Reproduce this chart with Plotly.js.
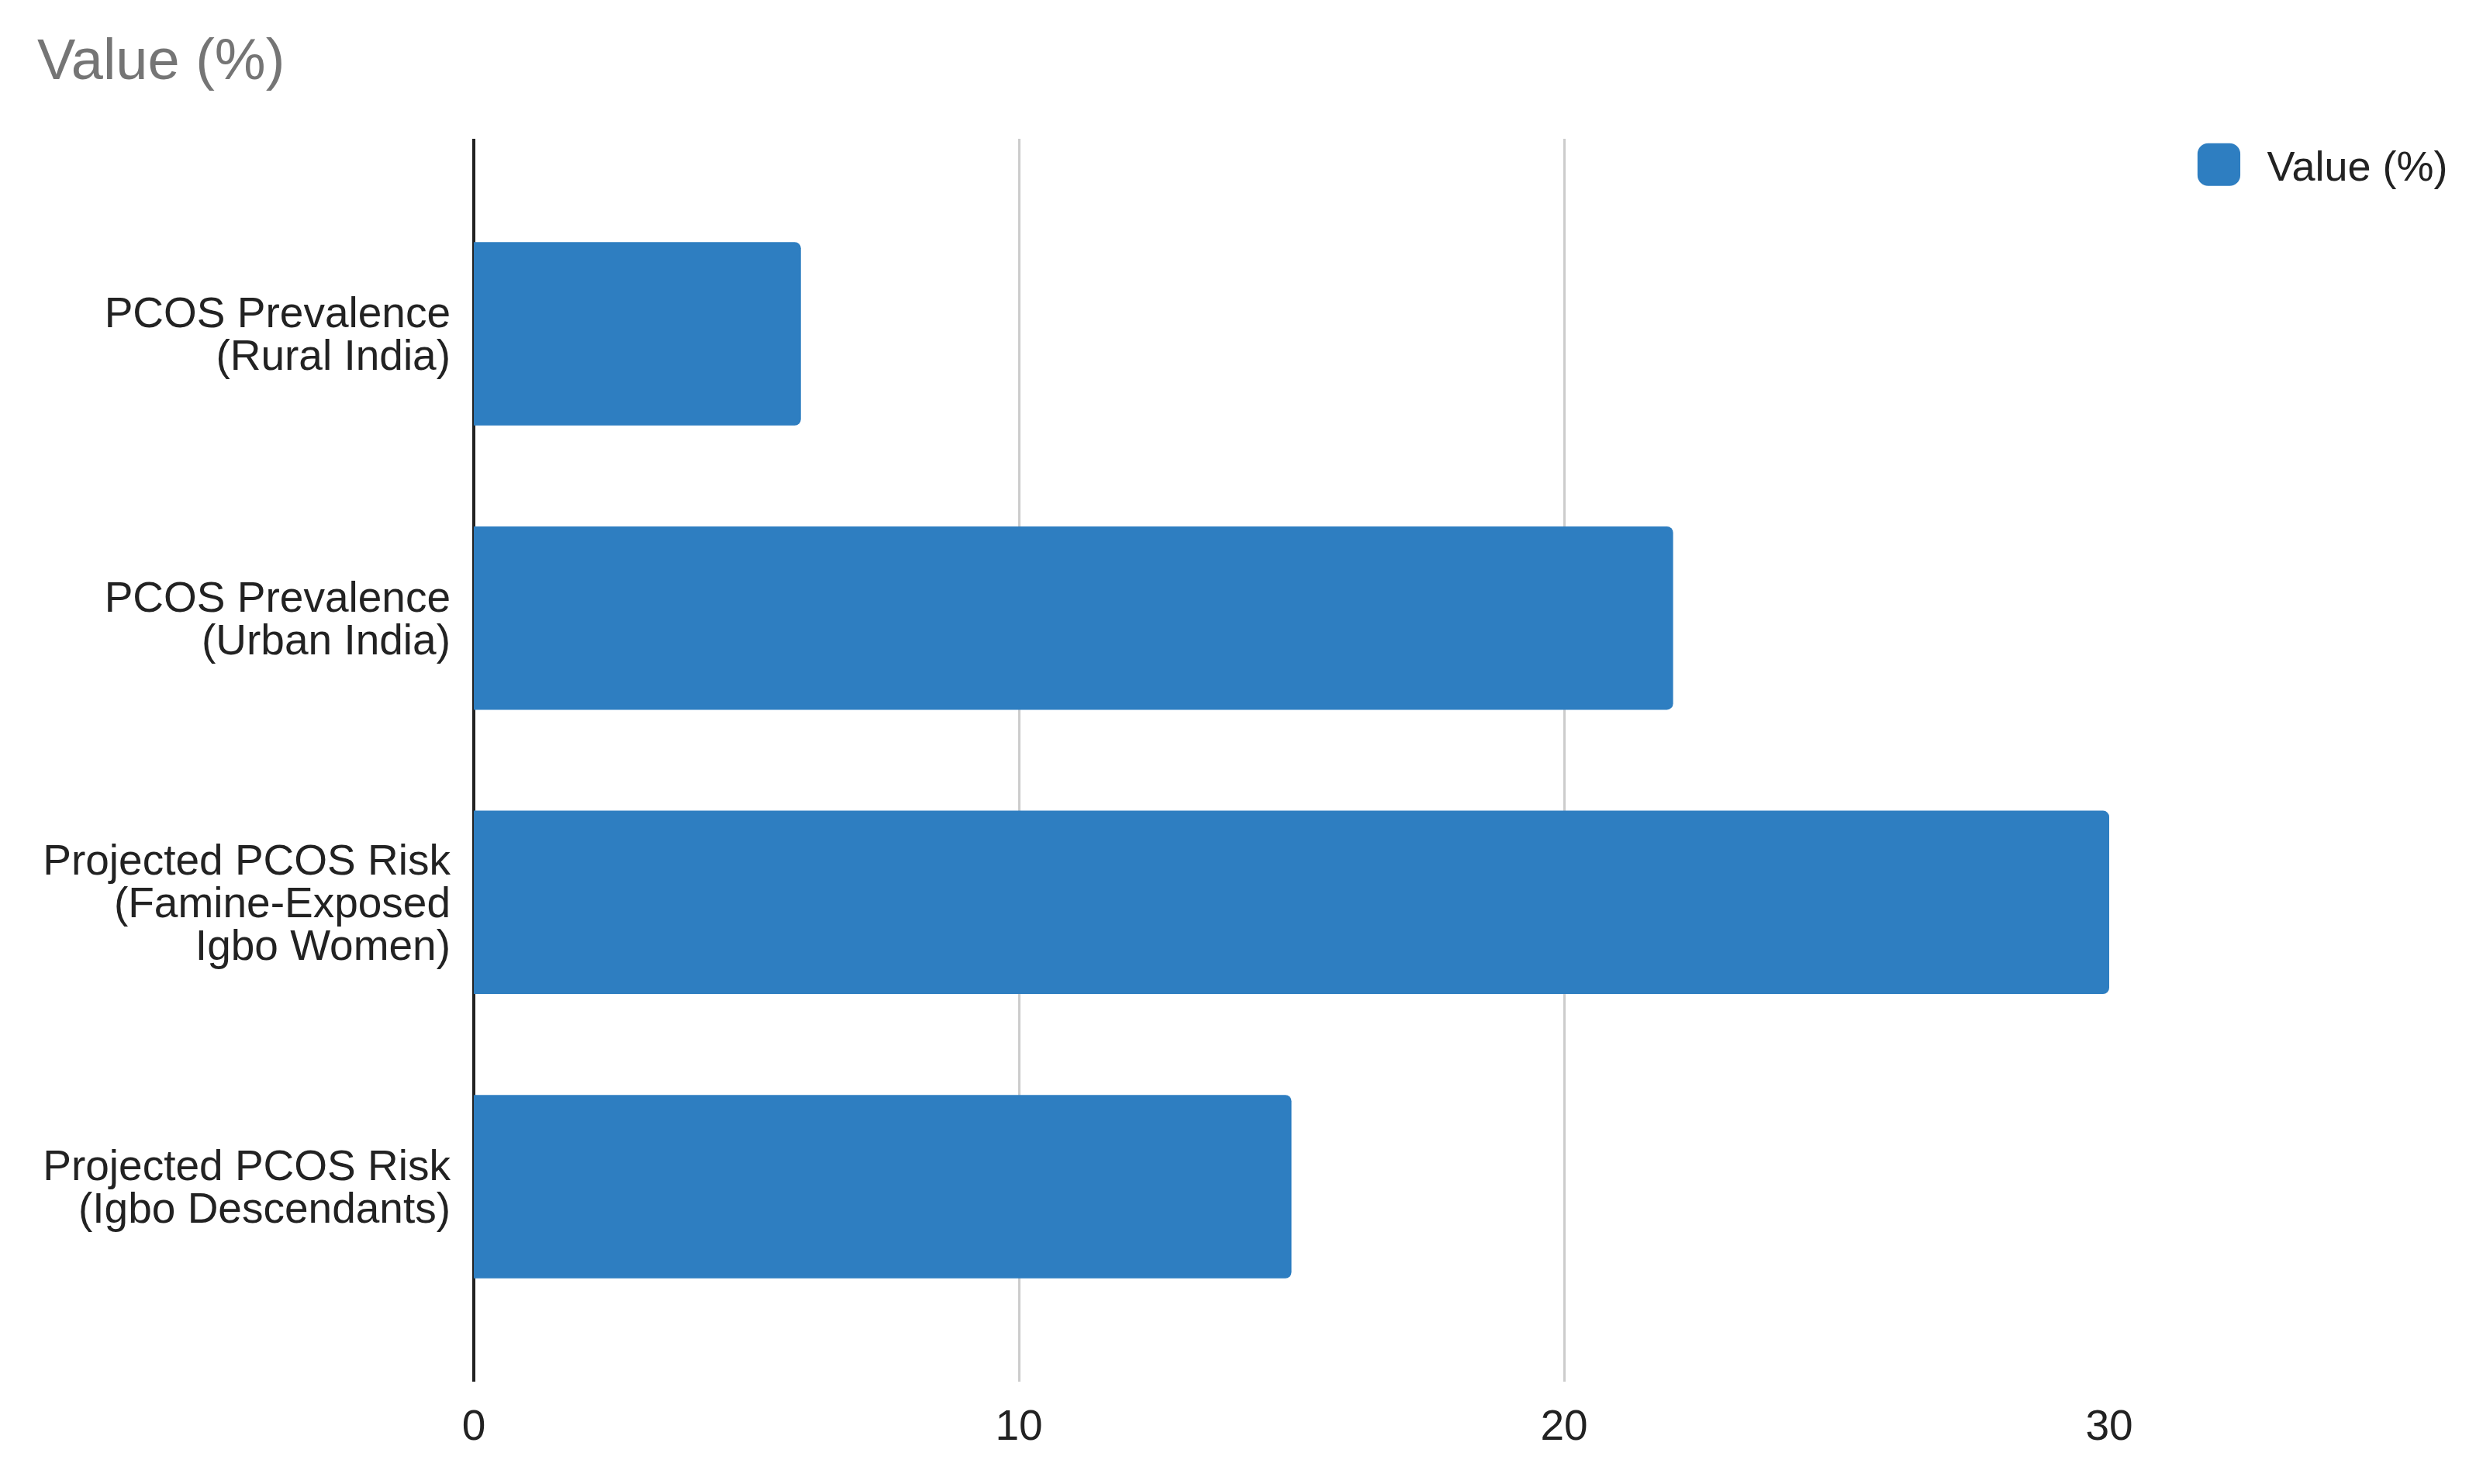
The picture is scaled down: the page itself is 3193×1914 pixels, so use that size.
<!DOCTYPE html>
<html>
<head>
<meta charset="utf-8">
<script src="https://cdn.plot.ly/plotly-3.0.1.min.js"></script>
<style>
  html, body { margin: 0; padding: 0; background: #fff; }
  #chart { width: 3193px; height: 1914px; }
</style>
</head>
<body>
<div id="chart"></div>
<script>
const categories = [
    'PCOS Prevalence<br>(Rural India)',
    'PCOS Prevalence<br>(Urban India)',
    'Projected PCOS Risk<br>(Famine-Exposed<br>Igbo Women)',
    'Projected PCOS Risk<br>(Igbo Descendants)'
];
const values = [6, 22, 30, 15];
const seriesName = 'Value (%)';
const xTicks = [0, 10, 20, 30];

const fontFamily = '"Liberation Sans", Arial, sans-serif';
const barColor = '#2e7ec1';
const labelLineSpacing = 1.0; // em, tighter than plotly's 1.3

const trace = {
    type: 'bar',
    orientation: 'h',
    x: values,
    y: categories,
    name: seriesName,
    marker: {
        color: barColor,
        cornerradius: 8,
        line: { width: 0 }
    },
    hoverinfo: 'x+y'
};

const layout = {
    width: 3193,
    height: 1914,
    paper_bgcolor: '#ffffff',
    plot_bgcolor: '#ffffff',
    font: { family: fontFamily, size: 55, color: '#222222' },
    margin: { l: 611, r: 473, t: 179, b: 132, pad: 0 },
    bargap: 0.355,
    title: {
        text: 'Value (%)',
        font: { family: fontFamily, size: 74, color: '#757575' },
        xref: 'container',
        yref: 'container',
        x: 0.015,
        xanchor: 'left',
        y: 0.96,
        yanchor: 'middle'
    },
    xaxis: {
        range: [0, 30],
        tickvals: xTicks,
        ticktext: xTicks.map(String),
        showgrid: true,
        gridcolor: '#cccccc',
        gridwidth: 3,
        zeroline: true,
        zerolinecolor: '#222222',
        zerolinewidth: 4,
        showline: false,
        ticks: 'outside',
        ticklen: 8,
        tickcolor: 'rgba(0,0,0,0)',
        tickfont: { size: 55, color: '#222222' },
        fixedrange: true
    },
    yaxis: {
        type: 'category',
        range: [3.686, -0.686],
        showgrid: false,
        zeroline: false,
        showline: false,
        ticks: 'outside',
        ticklen: 18,
        tickcolor: 'rgba(0,0,0,0)',
        tickfont: { size: 55, color: '#222222' },
        fixedrange: true
    },
    showlegend: true,
    legend: {
        x: 1.05,
        xanchor: 'left',
        y: 0.979,
        yanchor: 'middle',
        font: { size: 54, color: '#222222' },
        itemwidth: 88,
        bgcolor: 'rgba(0,0,0,0)'
    }
};

const config = { displayModeBar: false, staticPlot: true };

// tighten multi-line category labels and enlarge the legend swatch
function touchUp(gd) {
    gd.querySelectorAll('.ytick text').forEach(function (t) {
        const lines = t.querySelectorAll('tspan.line');
        const n = lines.length;
        if (n < 2) return;
        const shift = (n - 1) * (1.3 - labelLineSpacing) / 2;
        lines.forEach(function (ln, i) {
            ln.setAttribute('dy', (shift + i * labelLineSpacing) + 'em');
        });
    });
    gd.querySelectorAll('.legend .legendpoints path').forEach(function (p) {
        if (p.dataset.big) return;
        const tr = p.getAttribute('transform') || '';
        p.setAttribute('transform', tr + ' translate(-13,0) scale(4.6)');
        p.dataset.big = '1';
    });
}

const gd = document.getElementById('chart');
Plotly.newPlot(gd, [trace], layout, config).then(function () {
    touchUp(gd);
    gd.on('plotly_afterplot', function () { touchUp(gd); });
});
</script>
</body>
</html>
